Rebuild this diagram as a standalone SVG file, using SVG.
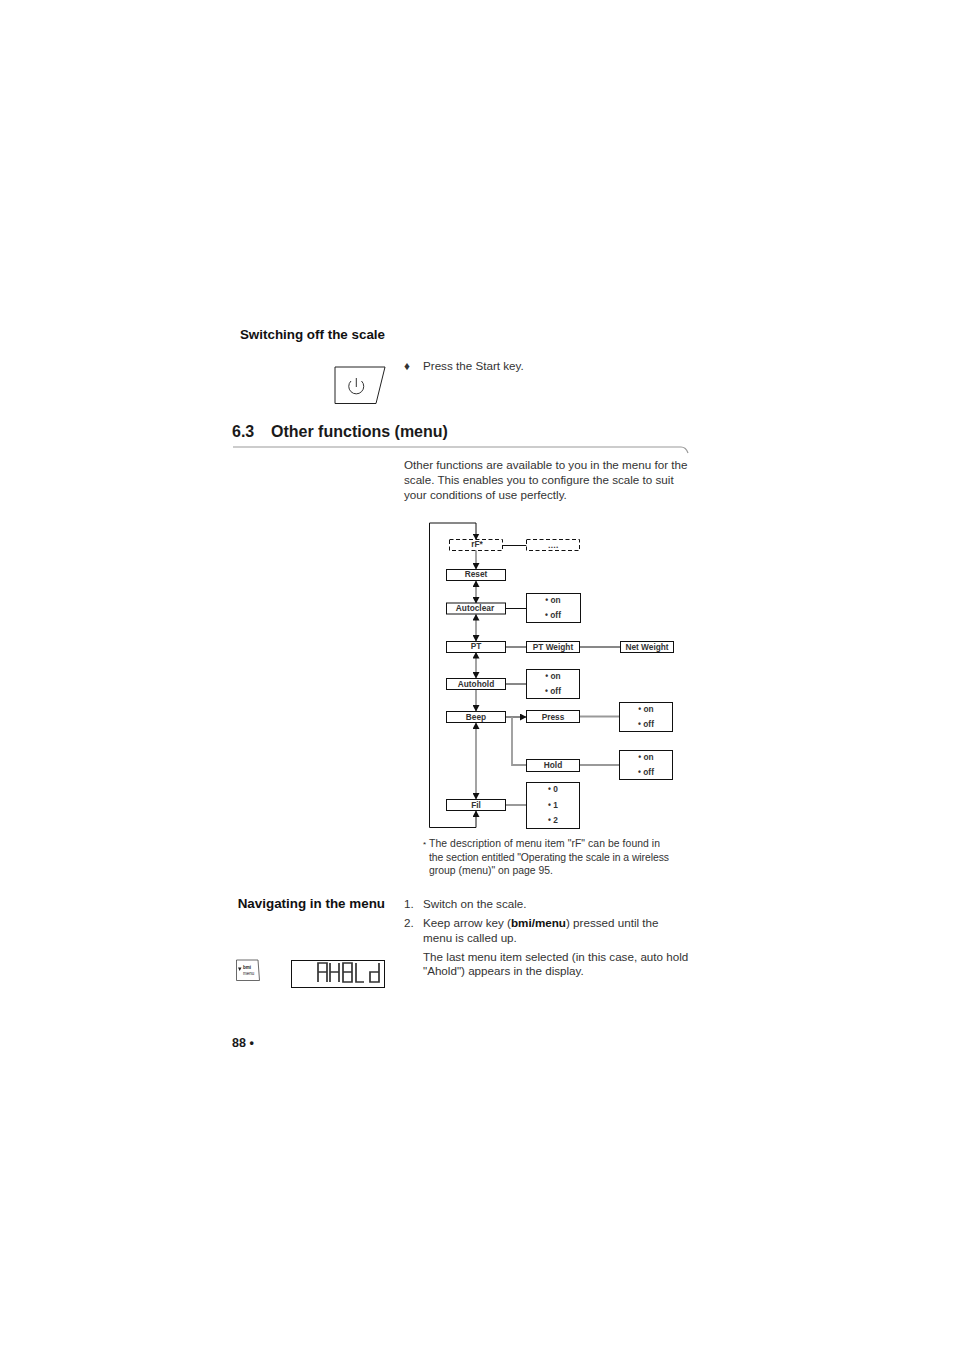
<svg xmlns="http://www.w3.org/2000/svg" width="954" height="1347" viewBox="0 0 954 1347">
<style>
text{font-family:"Liberation Sans",Arial,sans-serif;fill:#1a1a1a}
.b{font-size:11.65px;fill:#333}
.h{font-size:13.4px;font-weight:bold;fill:#111}
.f{font-size:10.4px;fill:#333}
.n{font-size:8.3px;font-weight:bold;text-anchor:middle;fill:#333}
.box{fill:#fff;stroke:#111;stroke-width:1}
.dash{fill:#fff;stroke:#111;stroke-width:1;stroke-dasharray:4 2.5}
.k{fill:none;stroke:#111;stroke-width:1}
.g{fill:none;stroke:#999;stroke-width:1.8}
.seg{fill:none;stroke:#333;stroke-width:1.7}
</style>
<defs>
<marker id="a" markerWidth="7" markerHeight="7" refX="6" refY="3.500" orient="auto-start-reverse" markerUnits="userSpaceOnUse"><path d="M0 0L6.500 3.500L0 7Z" fill="#111"/></marker>
</defs>
<rect width="954" height="1347" fill="#fff"/>
<text x="385" y="339" class="h" text-anchor="end">Switching off the scale</text>
<g id="start-key"><path d="M335 367H385L376 403.500H335Z" fill="#fff" stroke="#222" stroke-width="1"/><path d="M351 381A7.500 7.500 0 1 0 361.500 381M356.300 378V387" fill="none" stroke="#333" stroke-width="1"/></g>
<text x="404" y="370" class="b">♦</text>
<text x="423" y="370" class="b">Press the Start key.</text>
<text x="232" y="437" font-size="16" font-weight="bold" fill="#111">6.3</text>
<text x="271" y="437" font-size="16" font-weight="bold" fill="#111">Other functions (menu)</text>
<path d="M233 447H681Q686 447 688 453" fill="none" stroke="#999" stroke-width="1.200"/>
<text x="404" y="469" class="b">Other functions are available to you in the menu for the</text>
<text x="404" y="484" class="b">scale. This enables you to configure the scale to suit</text>
<text x="404" y="499" class="b">your conditions of use perfectly.</text>
<g id="connectors">
<path class="k" d="M476 523H429.500V827.500H476V811" marker-end="url(#a)"/>
<path class="k" d="M476 523V539.500" marker-end="url(#a)"/>
<path class="g" d="M476 550V569" marker-end="url(#a)"/>
<path class="g" d="M476 581V603" marker-start="url(#a)" marker-end="url(#a)"/>
<path class="g" d="M476 614.500V641" marker-start="url(#a)" marker-end="url(#a)"/>
<path class="g" d="M476 652.500V678" marker-start="url(#a)" marker-end="url(#a)"/>
<path class="g" d="M476 689.500V711" marker-end="url(#a)"/>
<path class="g" d="M476 723V799" marker-start="url(#a)" marker-end="url(#a)"/>
<path class="k" d="M502.500 545.500H526.500M505.500 608.500H526.500M505.500 647H526.500M580 647H620.500M505.500 684H526.500"/>
<path class="k" d="M505.500 717H526" marker-end="url(#a)"/>
<path class="g" d="M512 717V765H526.500M580 716.500H619.500M580 765H619.500M505.500 805H526.500"/>
</g>
<g id="rf"><rect class="dash" x="449.500" y="539.500" width="53" height="11"/><text class="n" x="477" y="547">rF*</text></g>
<g id="dots"><rect class="dash" x="526.500" y="539.500" width="53" height="11"/><text class="n" x="553" y="548">….</text></g>
<g id="reset"><rect class="box" x="446.500" y="569.500" width="59" height="11"/><text class="n" x="476" y="577">Reset</text></g>
<g id="autoclear"><rect class="box" x="446.500" y="603" width="59" height="11"/><text class="n" x="475" y="611">Autoclear</text></g>
<g id="autoclear-opts"><rect class="box" x="526.500" y="593.500" width="54" height="29"/><text class="n" x="553" y="603">• on</text><text class="n" x="553" y="618">• off</text></g>
<g id="pt"><rect class="box" x="446.500" y="641.500" width="59" height="11"/><text class="n" x="476" y="649">PT</text></g>
<g id="pt-weight"><rect class="box" x="526.500" y="641.500" width="53" height="11"/><text class="n" x="553" y="650">PT Weight</text></g>
<g id="net-weight"><rect class="box" x="620.500" y="641.500" width="53" height="11"/><text class="n" x="647" y="650">Net Weight</text></g>
<g id="autohold"><rect class="box" x="446.500" y="678.500" width="59" height="11"/><text class="n" x="476" y="687">Autohold</text></g>
<g id="autohold-opts"><rect class="box" x="526.500" y="669.500" width="53" height="29"/><text class="n" x="553" y="679">• on</text><text class="n" x="553" y="694">• off</text></g>
<g id="beep"><rect class="box" x="446.500" y="711.500" width="59" height="11"/><text class="n" x="476" y="720">Beep</text></g>
<g id="press"><rect class="box" x="526.500" y="710.500" width="53" height="12"/><text class="n" x="553" y="720">Press</text></g>
<g id="press-opts"><rect class="box" x="619.500" y="702.500" width="53" height="29"/><text class="n" x="646" y="712">• on</text><text class="n" x="646" y="727">• off</text></g>
<g id="hold"><rect class="box" x="526.500" y="759.500" width="53" height="12"/><text class="n" x="553" y="768">Hold</text></g>
<g id="hold-opts"><rect class="box" x="619.500" y="750.500" width="53" height="29"/><text class="n" x="646" y="760">• on</text><text class="n" x="646" y="775">• off</text></g>
<g id="fil"><rect class="box" x="446.500" y="799.500" width="59" height="11"/><text class="n" x="476" y="808">Fil</text></g>
<g id="fil-opts"><rect class="box" x="526.500" y="782.500" width="53" height="46"/><text class="n" x="553" y="792">• 0</text><text class="n" x="553" y="808">• 1</text><text class="n" x="553" y="823">• 2</text></g>
<text x="423" y="847" font-size="8" fill="#333">*</text>
<text x="429" y="847" class="f" textLength="231">The description of menu item "rF" can be found in</text>
<text x="429" y="861" class="f" textLength="240">the section entitled "Operating the scale in a wireless</text>
<text x="429" y="874" class="f" textLength="124">group (menu)" on page 95.</text>
<text x="385" y="908" class="h" text-anchor="end">Navigating in the menu</text>
<text x="404" y="908" class="b">1.</text><text x="423" y="908" class="b">Switch on the scale.</text>
<text x="404" y="927" class="b">2.</text><text x="423" y="927" class="b">Keep arrow key (<tspan font-weight="bold" fill="#111">bmi/menu</tspan>) pressed until the</text>
<text x="423" y="942" class="b">menu is called up.</text>
<text x="423" y="961" class="b">The last menu item selected (in this case, auto hold</text>
<text x="423" y="975" class="b">"Ahold") appears in the display.</text>
<g id="bmi-key"><path d="M236.500 960H258L259.500 980.500H236.500Z" fill="#fff" stroke="#444" stroke-width="0.800"/><path d="M238 967.500H241.500L239.700 971Z" fill="#222"/><text x="243" y="969" font-size="4.500" font-weight="bold">bmi</text><text x="243" y="974.500" font-size="4.500">menu</text></g>
<g id="lcd"><rect x="291.500" y="960.500" width="93" height="27" fill="#fff" stroke="#111"/>
<path class="seg" d="M318 982V963H327V982M318 972H327M330 963V982M339 963V982M330 972H339M343 963H352V982H343ZM343 972H352M356 963V982H364M379 963V982H370V972H379"/>
</g>
<text x="232" y="1047" font-size="12.500" font-weight="bold" fill="#111">88 •</text>
</svg>
